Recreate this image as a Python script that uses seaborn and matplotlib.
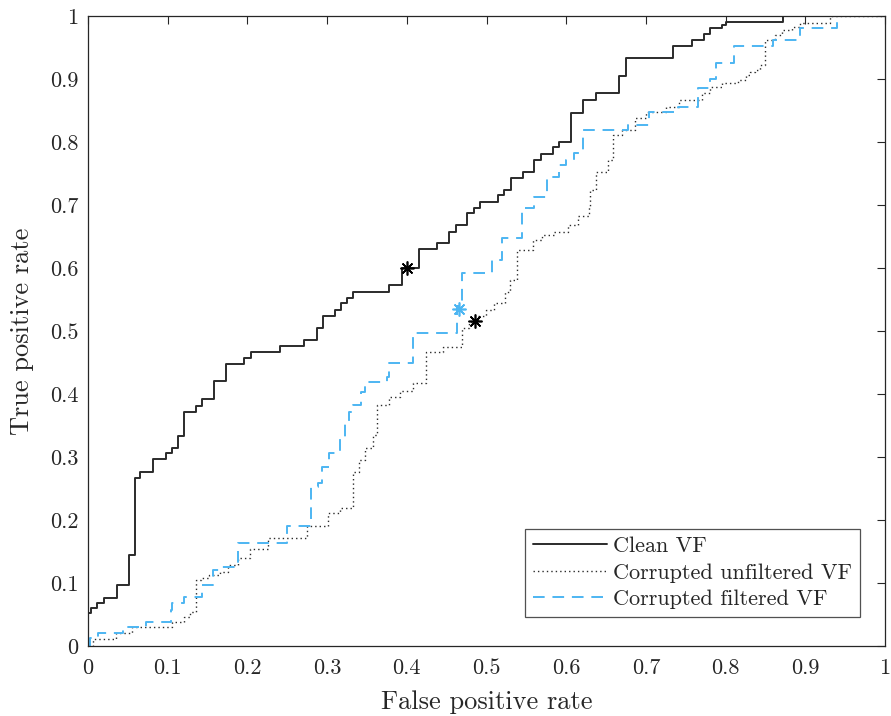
import matplotlib
matplotlib.use("Agg")
import matplotlib.pyplot as plt
import numpy as np
import pandas as pd
import seaborn as sns

# ROC step points: at each fpr the curve rises to the given tpr (steps-post)
clean_fpr = [0, 0, .004, .011, .020, .036, .051, .059, .065, .082, .098, .105, .113, .120,
             .135, .143, .158, .173, .196, .204, .241, .271, .287, .295, .310, .317, .325,
             .333, .378, .394, .415, .438, .453, .462, .476, .484, .492, .514, .522, .531,
             .546, .560, .568, .583, .591, .606, .621, .637, .666, .675, .734, .758, .773,
             .780, .795, .800, .872, 1.0]
clean_tpr = [0, .052, .060, .068, .076, .097, .144, .267, .276, .297, .306, .314, .333, .371,
             .381, .392, .421, .448, .457, .467, .476, .486, .505, .524, .533, .544, .552,
             .562, .573, .600, .630, .640, .657, .668, .687, .695, .705, .716, .724, .743,
             .752, .771, .781, .792, .800, .846, .867, .878, .905, .933, .952, .962, .971,
             .981, .986, .990, 1.0, 1.0]

unfilt_fpr = [0, .006, .035, .055, .105, .120, .128, .135, .142, .152, .165, .176, .188,
              .203, .226, .275, .301, .316, .333, .340, .348, .358, .363, .378, .392, .408,
              .424, .446, .469, .478, .489, .499, .510, .523, .530, .538, .558, .570, .585,
              .602, .615, .629, .630, .637, .652, .659, .670, .686, .700, .725, .742, .770,
              .780, .795, .815, .825, .830, .837, .843, .849, .862, .871, .883, .893, .931,
              1.0]
unfilt_tpr = [0, .011, .021, .030, .038, .046, .054, .105, .108, .112, .117, .128, .140,
              .154, .171, .190, .211, .219, .276, .295, .315, .335, .383, .395, .405, .418,
              .467, .475, .505, .514, .524, .533, .544, .562, .581, .629, .644, .652, .657,
              .668, .682, .697, .724, .752, .771, .811, .819, .838, .848, .856, .867, .878,
              .887, .894, .898, .906, .911, .914, .922, .962, .970, .978, .982, .989, 1.0,
              1.0]

filt_fpr = [0, .003, .012, .044, .073, .104, .106, .120, .143, .157, .168, .188, .250,
            .280, .288, .294, .302, .316, .323, .327, .333, .342, .348, .375, .378, .408,
            .463, .469, .507, .520, .545, .560, .576, .591, .600, .610, .621, .678, .704,
            .740, .765, .780, .788, .810, .860, .893, .940, 1.0]
filt_tpr = [0, .012, .021, .030, .038, .057, .068, .078, .097, .121, .125, .163, .190,
            .252, .259, .284, .306, .330, .355, .371, .382, .403, .419, .427, .449, .497,
            .540, .592, .613, .648, .695, .713, .744, .763, .771, .782, .819, .827, .848,
            .856, .886, .900, .925, .952, .962, .981, 1.0, 1.0]

# operating points
op_x = [0.400, 0.485, 0.466]
op_y = [0.600, 0.516, 0.535]
op_col = ["black", "black", "#4DB6F2"]

series = ["Clean VF", "Corrupted unfiltered VF", "Corrupted filtered VF"]
tick_vals = [0, .1, .2, .3, .4, .5, .6, .7, .8, .9, 1]
tick_text = ["0", "0.1", "0.2", "0.3", "0.4", "0.5", "0.6", "0.7", "0.8", "0.9", "1"]

sns.set_style("white")
plt.rcParams["font.family"] = ["cmr10", "DejaVu Serif"]
plt.rcParams["axes.formatter.use_mathtext"] = True
plt.rcParams["xtick.direction"] = "in"
plt.rcParams["ytick.direction"] = "in"

fig = plt.figure(figsize=(8.91, 7.16), dpi=100)
ax = fig.add_axes([88 / 891, 1 - 646 / 716, 797 / 891, 630 / 716])

blue = "#4DB6F2"
sns.lineplot(x=clean_fpr, y=clean_tpr, sort=False, estimator=None, ax=ax,
             drawstyle="steps-post", color="#2b2b2b", linewidth=1.4, label=series[0])
sns.lineplot(x=unfilt_fpr, y=unfilt_tpr, sort=False, estimator=None, ax=ax,
             drawstyle="steps-post", color="#2b2b2b", linewidth=1.0,
             linestyle=(0, (1, 2.2)), label=series[1])
sns.lineplot(x=filt_fpr, y=filt_tpr, sort=False, estimator=None, ax=ax,
             drawstyle="steps-post", color=blue, linewidth=1.4,
             linestyle=(0, (6, 4)), label=series[2])

for x, y, c in zip(op_x, op_y, op_col):
    ax.plot([x], [y], marker=(8, 2, 0), color=c, markersize=10, markeredgewidth=1.2,
            linestyle="none")

ax.set_xlim(0, 1)
ax.set_ylim(0, 1)
ax.set_xticks(tick_vals)
ax.set_yticks(tick_vals)
ax.set_xticklabels(tick_text)
ax.set_yticklabels(tick_text)
ax.tick_params(axis="both", which="both", direction="in", length=6, width=0.8,
               color="#262626", labelsize=16, top=True, right=True,
               labelcolor="#262626")
ax.tick_params(axis="x", pad=9)
ax.tick_params(axis="y", pad=7)
for s in ax.spines.values():
    s.set_visible(True)
    s.set_color("#262626")
    s.set_linewidth(0.9)

ax.set_xlabel("False positive rate", fontsize=19, color="#262626", labelpad=9)
ax.set_ylabel("True positive rate", fontsize=19, color="#262626", labelpad=11)

leg = ax.legend(loc="lower right", bbox_to_anchor=((860 - 88) / 797, (646 - 617) / 630),
                borderaxespad=0, fontsize=16, handlelength=3.3, handletextpad=0.3,
                labelspacing=0.32, borderpad=0.35, frameon=True, fancybox=False)
leg.get_frame().set_edgecolor("#262626")
leg.get_frame().set_linewidth(0.9)
for t in leg.get_texts():
    t.set_color("#262626")

fig.savefig("out.png", dpi=100)
